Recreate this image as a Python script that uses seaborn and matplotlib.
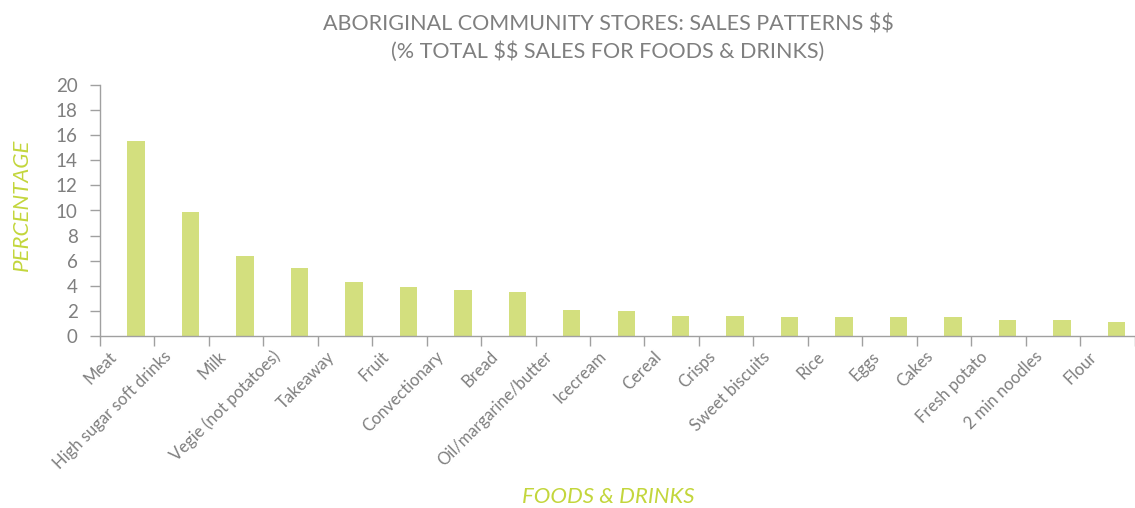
import matplotlib
matplotlib.use("Agg")
import matplotlib.pyplot as plt
import matplotlib.transforms as mtransforms
import seaborn as sns
import pandas as pd
import numpy as np

categories = ["Meat", "High sugar soft drinks", "Milk", "Vegie (not potatoes)", "Takeaway",
              "Fruit", "Convectionary", "Bread", "Oil/margarine/butter", "Icecream",
              "Cereal", "Crisps", "Sweet biscuits", "Rice", "Eggs", "Cakes",
              "Fresh potato", "2 min noodles", "Flour"]
values = [15.5, 9.9, 6.4, 5.4, 4.3, 3.9, 3.7, 3.5, 2.1, 2.0,
          1.6, 1.6, 1.5, 1.5, 1.5, 1.5, 1.3, 1.3, 1.1]
yticks = [0, 2, 4, 6, 8, 10, 12, 14, 16, 18, 20]

title = "ABORIGINAL COMMUNITY STORES: SALES PATTERNS $$\n(% TOTAL $$ SALES FOR FOODS & DRINKS)"
xlabel = "FOODS & DRINKS"
ylabel = "PERCENTAGE"

BAR = "#d3df7e"
GREEN = "#c3d63c"
GRAY = "#7f7f7f"
AX = "#a0a0a0"

sns.set_theme(style="white")
plt.rcParams["font.family"] = ["Lato", "DejaVu Sans"]
plt.rcParams["text.parse_math"] = False

df = pd.DataFrame({"cat": categories, "val": values})

fig = plt.figure(figsize=(11.35, 5.08), dpi=100)
ax = fig.add_axes([100/1135, 1-336/508, 1-100/1135-0.5/1135, (336-85)/508])

sns.barplot(data=df, x="cat", y="val", order=categories, color=BAR, width=0.32,
            saturation=1, ax=ax, edgecolor="none")

n = len(categories)
d = 0.165
ax.set_xlim(-0.5 - d, n - 0.5 - d)
ax.set_ylim(0, 20)
ax.set_yticks(yticks)
ax.set_yticklabels([str(v) for v in yticks], fontsize=13.5, color=GRAY)
ax.tick_params(axis="y", length=7, width=1, color=AX, pad=9, left=True)

ax.set_xticks(range(n))
ax.set_xticklabels(categories, rotation=45, ha="right", va="center",
                   rotation_mode="anchor", fontsize=12, color=GRAY)
ax.tick_params(axis="x", which="major", length=0, pad=13)
offset = mtransforms.ScaledTranslation(-22/100, 0, fig.dpi_scale_trans)
for lbl in ax.get_xticklabels():
    lbl.set_transform(lbl.get_transform() + offset)
ax.set_xticks([k - 0.5 - d for k in range(n + 1)], minor=True)
ax.tick_params(axis="x", which="minor", length=7, width=1, color=AX, bottom=True)

for s in ["top", "right"]:
    ax.spines[s].set_visible(False)
for s in ["left", "bottom"]:
    ax.spines[s].set_color(AX)
    ax.spines[s].set_linewidth(1)

ax.set_xlabel("")
ax.set_ylabel("")
fig.text(608/1135, 1-497/508, xlabel, ha="center", va="center", fontsize=16,
         style="italic", color=GREEN)
fig.text(22/1135, 1-205/508, ylabel, ha="center", va="center", fontsize=16,
         style="italic", color=GREEN, rotation=90)
fig.text(608/1135, 1-38/508, title, ha="center", va="center", fontsize=15.5,
         color=GRAY, linespacing=1.4)

fig.savefig("out.png", dpi=100)
